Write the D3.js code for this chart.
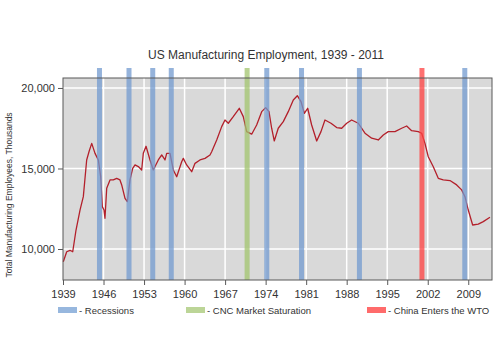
<!DOCTYPE html>
<html>
<head>
<meta charset="utf-8">
<script src="https://cdn.jsdelivr.net/npm/d3@7"></script>
<style>
body { margin: 0; background: #fff; }
text { font-family: "Liberation Sans", Arial, sans-serif; fill: #333; }
</style>
</head>
<body>
<div id="chart"></div>
<script>
var years = [1939.05, 1939.64, 1940.21, 1940.68, 1941.25, 1941.94, 1942.51, 1943.09, 1943.49, 1943.96,
  1944.53, 1945.10, 1945.51, 1945.79, 1946.08, 1946.25, 1946.55, 1947.12, 1947.69, 1948.27,
  1948.84, 1949.14, 1949.71, 1950.11, 1950.57, 1951.04, 1951.44, 1952.01, 1952.59, 1952.87,
  1953.34, 1954.03, 1954.60, 1955.46, 1956.05, 1956.62, 1956.91, 1957.48, 1958.05, 1958.64,
  1959.50, 1959.78, 1960.36, 1961.23, 1961.80, 1962.66, 1963.53, 1964.39, 1964.68, 1965.55,
  1966.41, 1966.98, 1967.55, 1968.41, 1969.45, 1970.14, 1970.73, 1971.59, 1972.45, 1973.32,
  1974.01, 1974.58, 1975.04, 1975.49, 1976.18, 1977.05, 1977.91, 1978.78, 1979.47, 1980.11,
  1980.68, 1981.26, 1981.95, 1982.82, 1983.56, 1984.25, 1985.29, 1986.27, 1987.14, 1988.00,
  1988.86, 1990.00, 1991.16, 1992.32, 1993.46, 1994.32, 1995.18, 1996.34, 1997.50, 1998.36,
  1999.22, 2000.36, 2000.95, 2001.52, 2002.09, 2002.96, 2003.82, 2004.68, 2005.84, 2007.00,
  2007.86, 2008.43, 2009.00, 2009.76, 2010.73, 2011.59, 2012.75];
var employment = [9210, 9830, 9920, 9830, 11180, 12420, 13250, 15530, 16040, 16560,
  15940, 15530, 14490, 12630, 12420, 11910, 13770, 14290, 14290, 14390,
  14290, 13980, 13150, 12940, 14290, 15010, 15220, 15120, 14910, 15940,
  16380, 15530, 14910, 15530, 15840, 15530, 15940, 15940, 14910, 14490,
  15420, 15630, 15220, 14800, 15320, 15530, 15630, 15840, 16040, 16770,
  17600, 18010, 17810, 18220, 18740, 18220, 17290, 17130, 17700, 18530,
  18780, 18530, 17500, 16710, 17500, 17910, 18530, 19250, 19520, 19150,
  18430, 18740, 17700, 16710, 17290, 18010, 17810, 17540, 17500, 17810,
  18010, 17810, 17190, 16880, 16770, 17080, 17290, 17290, 17500, 17640,
  17350, 17290, 17190, 16560, 15730, 15110, 14390, 14290, 14250, 13980,
  13670, 13250, 12420, 11490, 11550, 11700, 11970];
var recessions = [1945.3, 1950.4, 1954.5, 1957.7, 1974.2, 1980.2, 1990.2, 2008.4];
var cncSaturation = [1970.8];
var chinaWTO = [2001.0];
var xTicks = [1939, 1946, 1953, 1960, 1967, 1974, 1981, 1988, 1995, 2002, 2009];
var yTicks = [10000, 15000, 20000];
var legendLabels = ["- Recessions", "- CNC Market Saturation", "- China Enters the WTO"];

var w = 500, h = 363;
var plotL = 63, plotR = 492, plotT = 78, plotB = 280;

var svg = d3.select("#chart").append("svg").attr("width", w).attr("height", h);

var x = d3.scaleLinear().domain([1939, 2013.1]).range([plotL, plotR]);
var y = d3.scaleLinear().domain([8075, 20620]).range([plotB, plotT]);

svg.append("rect").attr("x", plotL).attr("y", plotT).attr("width", plotR - plotL).attr("height", plotB - plotT)
  .attr("fill", "#d9d9d9");

svg.selectAll("line.hgrid").data(yTicks).enter().append("line").attr("class", "hgrid")
  .attr("x1", plotL).attr("x2", plotR).attr("y1", function(d) { return y(d); }).attr("y2", function(d) { return y(d); })
  .attr("stroke", "#fff").attr("stroke-width", 1.5);
svg.selectAll("line.vgrid").data(xTicks.slice(1)).enter().append("line").attr("class", "vgrid")
  .attr("y1", plotT).attr("y2", plotB).attr("x1", function(d) { return x(d); }).attr("x2", function(d) { return x(d); })
  .attr("stroke", "#fff").attr("stroke-width", 1.5);

var line = d3.line().x(function(d) { return x(d[0]); }).y(function(d) { return y(d[1]); });
svg.append("path").datum(d3.zip(years, employment)).attr("d", line)
  .attr("fill", "none").attr("stroke", "#b3202b").attr("stroke-width", 1.3).attr("stroke-linejoin", "round");

function bands(data, color, cls) {
  svg.selectAll("rect." + cls).data(data).enter().append("rect").attr("class", cls)
    .attr("x", function(d) { return x(d) - 2.5; }).attr("width", 5)
    .attr("y", 68).attr("height", plotB - 68)
    .attr("fill", color).attr("opacity", 0.75);
}
bands(recessions, "#7199cf", "rec");
bands(cncSaturation, "#a2c46e", "cnc");
bands(chinaWTO, "#ff4040", "wto");

svg.append("rect").attr("x", plotL).attr("y", plotT).attr("width", plotR - plotL).attr("height", plotB - plotT)
  .attr("fill", "none").attr("stroke", "#595959").attr("stroke-width", 1);

var xAxis = svg.append("g").attr("transform", "translate(0," + plotB + ")")
  .call(d3.axisBottom(x).tickValues(xTicks).tickFormat(d3.format("d")).tickSize(5));
xAxis.select(".domain").remove();
xAxis.selectAll("line").attr("stroke", "#595959");
xAxis.selectAll("text").attr("font-size", 11).attr("dy", "0.9em").style("fill", "#333");

var yAxis = svg.append("g").attr("transform", "translate(" + plotL + ",0)")
  .call(d3.axisLeft(y).tickValues(yTicks).tickFormat(d3.format(",")).tickSize(5));
yAxis.select(".domain").remove();
yAxis.selectAll("line").attr("stroke", "#595959");
yAxis.selectAll("text").attr("font-size", 11).style("fill", "#333");

svg.append("text").attr("x", 266).attr("y", 59).attr("text-anchor", "middle")
  .attr("font-size", 12).text("US Manufacturing Employment, 1939 - 2011");

svg.append("text").attr("transform", "translate(12,195) rotate(-90)").attr("text-anchor", "middle")
  .attr("font-size", 8.5).text("Total Manufacturing Employees, Thousands");

var legendX = [58, 186, 367];
var legendColors = ["#97b7de", "#bcd597", "#ff6b6b"];
legendLabels.forEach(function(label, i) {
  svg.append("rect").attr("x", legendX[i]).attr("y", 307).attr("width", 19).attr("height", 6).attr("fill", legendColors[i]);
  svg.append("text").attr("x", legendX[i] + 21).attr("y", 313.5).attr("font-size", 9.5).text(label);
});
</script>
</body>
</html>
